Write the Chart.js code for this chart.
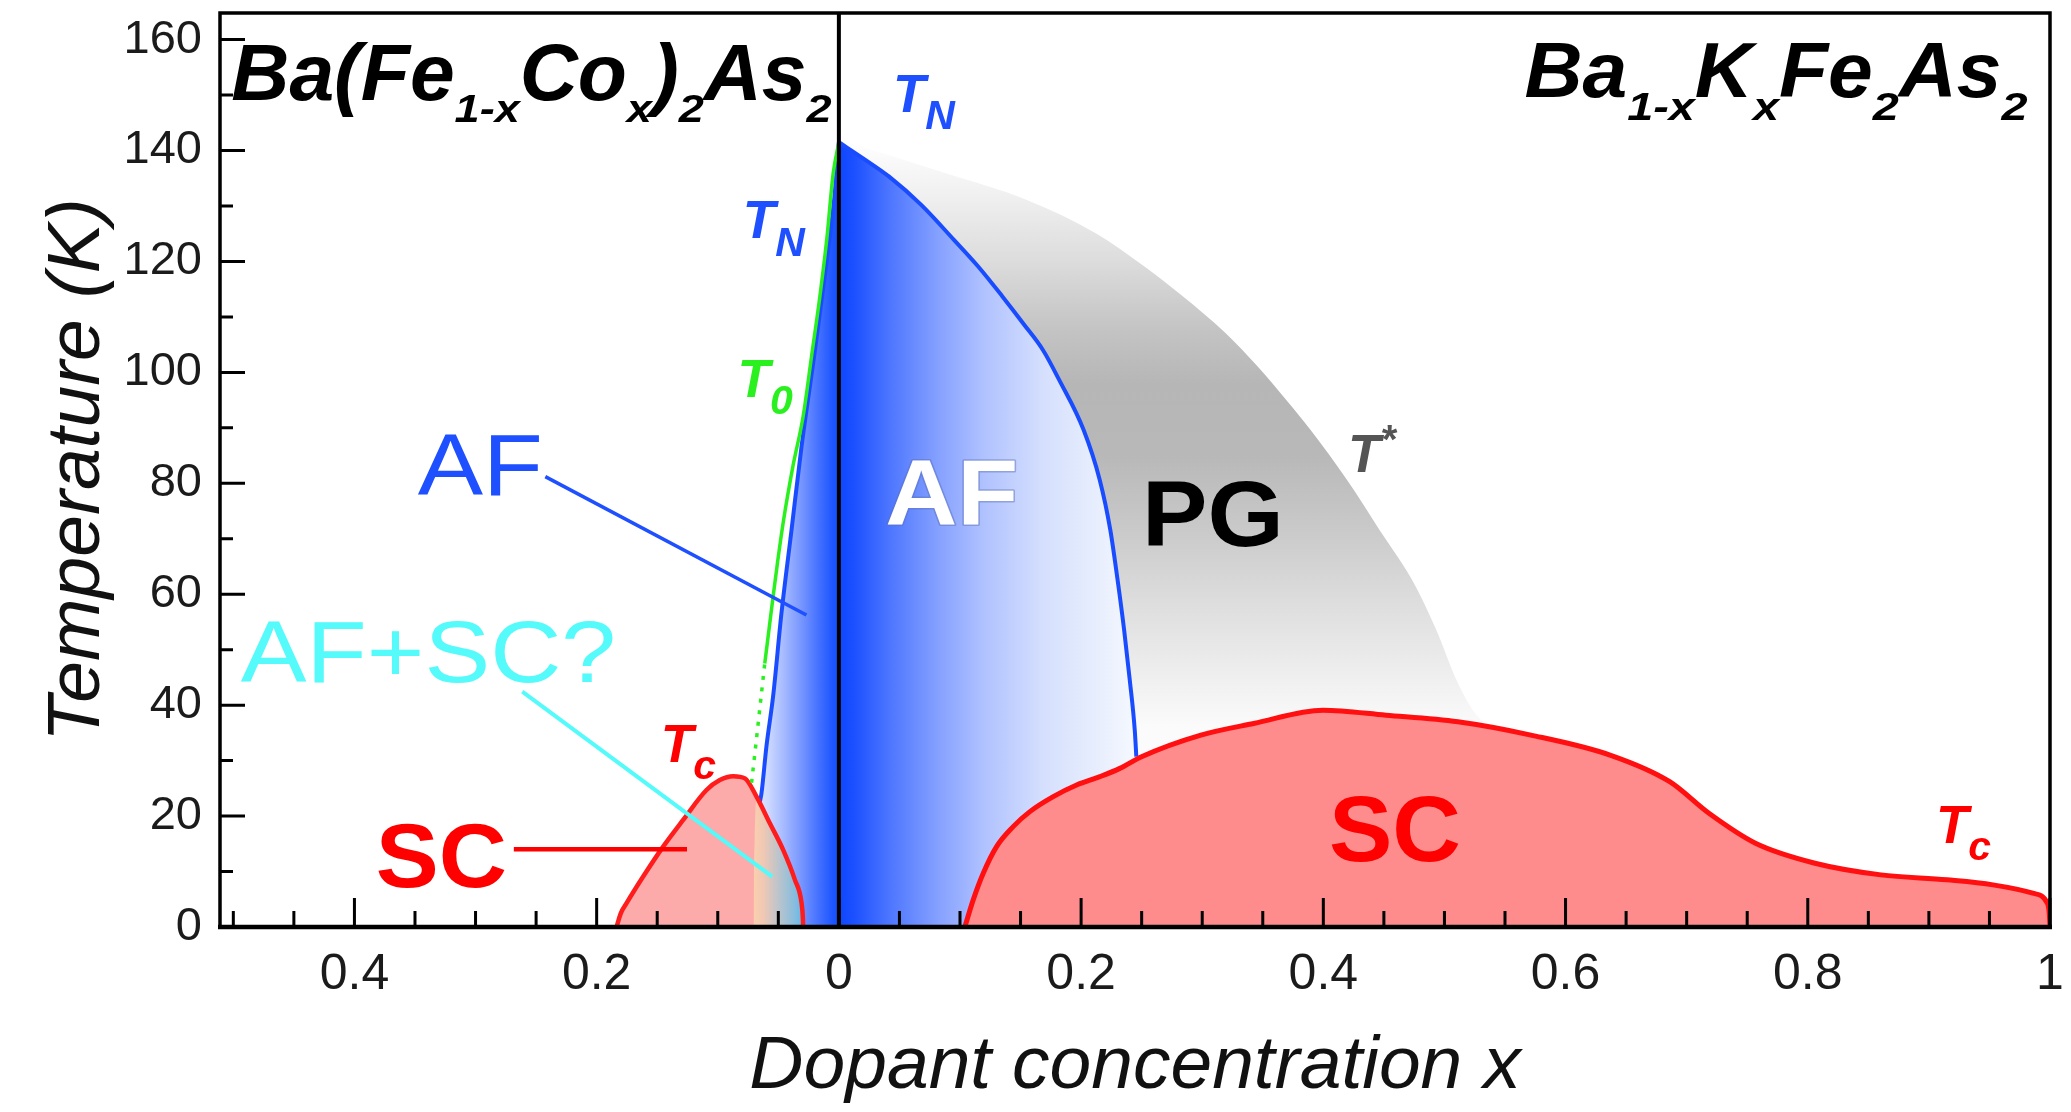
<!DOCTYPE html>
<html lang="en">
<head>
<meta charset="utf-8">
<title>Phase diagram of doped BaFe2As2</title>
<script src="https://cdn.jsdelivr.net/npm/chart.js@4.4.1/dist/chart.umd.min.js"></script>
<style>
  html, body { margin: 0; padding: 0; background: #ffffff; overflow: hidden; }
  canvas { display: block; }
</style>
</head>
<body>
<canvas id="phase" width="2071" height="1112"></canvas>
<script>
// Ba(Fe1-xCox)2As2 is drawn to the left of x = 0 (stored as negative x),
// Ba1-xKxFe2As2 to the right. Every curve point is [x, T (K)].

const X_MIN = -0.511;
const X_MAX = 1.0;
const T_MAX = 164.8;

const xTickValues = [-0.4, -0.2, 0, 0.2, 0.4, 0.6, 0.8, 1];
const xTickLabels = ['0.4', '0.2', '0', '0.2', '0.4', '0.6', '0.8', '1'];
const xMinorTicks = [-0.5, -0.45, -0.35, -0.3, -0.25, -0.15, -0.1, -0.05,
  0.05, 0.1, 0.15, 0.25, 0.3, 0.35, 0.45, 0.5, 0.55, 0.65, 0.7, 0.75, 0.85, 0.9, 0.95];
const yTickValues = [0, 20, 40, 60, 80, 100, 120, 140, 160];
const yTickLabels = ['0', '20', '40', '60', '80', '100', '120', '140', '160'];
const yMinorTicks = [10, 30, 50, 70, 90, 110, 130, 150];

// Ba1-xKxFe2As2: Neel temperature T_N
const tnK = [[0, 141.5], [0.02, 138.6], [0.0415, 135.3], [0.068, 130.2], [0.095, 123.9],
  [0.115, 119.1], [0.135, 113.7], [0.153, 108.6], [0.1686, 104.0], [0.182, 98.6],
  [0.2021, 89.6], [0.2154, 80.6], [0.2241, 71.6], [0.2301, 62.6], [0.2355, 53.6],
  [0.2402, 44.5], [0.2443, 35.5], [0.2456, 30.7]];

// Ba1-xKxFe2As2: pseudogap crossover T*
const tStarK = [[0, 142.0], [0.0883, 135.9], [0.1552, 131.1], [0.2121, 125.1], [0.2523, 119.1],
  [0.2824, 114.0], [0.3192, 107.1], [0.3460, 101.0], [0.3694, 95.0], [0.3895, 89.6],
  [0.4196, 80.6], [0.4464, 71.6], [0.4732, 62.6], [0.4932, 53.6], [0.5100, 44.5],
  [0.5234, 39.1], [0.5320, 37.0]];

// Ba1-xKxFe2As2: superconducting T_c
const scK = [[0.1040, 0], [0.1109, 4.9], [0.1192, 9.7], [0.1302, 14.5], [0.1439, 18.1],
  [0.1577, 20.8], [0.1770, 23.5], [0.1963, 25.6], [0.2155, 27.1], [0.2320, 28.6],
  [0.2499, 30.7], [0.2989, 34.6], [0.3425, 36.7], [0.3997, 39.1], [0.4517, 38.2],
  [0.5111, 37.0], [0.5714, 34.6], [0.6367, 31.0], [0.6860, 26.2], [0.7184, 20.5],
  [0.7568, 15.1], [0.8059, 11.5], [0.8604, 9.4], [0.9149, 8.5], [0.9529, 7.6],
  [0.9857, 6.1], [0.9978, 4.3], [0.9994, 2.5], [1.0, 0]];

// Ba(Fe1-xCox)2As2: Neel temperature T_N
const tnCo = [[-0.0652, 22.6], [-0.0639, 24.1], [-0.0598, 32.6], [-0.0543, 41.6],
  [-0.0474, 56.6], [-0.0391, 71.6], [-0.0308, 86.7], [-0.0212, 101.7], [-0.0102, 119.7],
  [-0.0040, 131.0], [0, 141.5]];

// Ba(Fe1-xCox)2As2: structural transition T_0 (measured part, then extrapolated)
const t0Co = [[-0.0612, 47.5], [-0.0575, 54.0], [-0.0543, 59.6], [-0.0505, 66.0],
  [-0.0460, 72.9], [-0.0380, 83.0], [-0.0295, 92.1], [-0.0225, 103.0], [-0.0157, 113.7],
  [-0.0100, 124.0], [-0.0047, 135.9], [0, 141.5]];
const t0CoExtrap = [[-0.0721, 26.0], [-0.0685, 33.0], [-0.0650, 40.0], [-0.0612, 47.5]];

// Ba(Fe1-xCox)2As2: superconducting T_c
const scCo = [[-0.1836, 0], [-0.1800, 2.5], [-0.1753, 4.3], [-0.1616, 9.1], [-0.1451, 14.5],
  [-0.1286, 19.3], [-0.1093, 24.7], [-0.0983, 26.5], [-0.0873, 27.2], [-0.0776, 26.8],
  [-0.0680, 23.5], [-0.0570, 18.7], [-0.0460, 13.9], [-0.0363, 8.5], [-0.0308, 4.3],
  [-0.0297, 1.5], [-0.0295, 0]];

// Ba(Fe1-xCox)2As2: region where the AF and SC domes overlap
const afScCo = [[-0.0705, 0], [-0.0702, 8.0], [-0.0695, 16.0], [-0.0682, 23.2],
  [-0.0570, 18.7], [-0.0460, 13.9], [-0.0363, 8.5], [-0.0308, 4.3], [-0.0297, 1.5],
  [-0.0295, 0]];

const FONT = '"Liberation Sans", Arial, Helvetica, sans-serif';
const BLUE = '#1f50ff';
const BLUE_LINE = '#1a4cff';
const GREEN = '#2bf01f';
const CYAN = '#55fafa';
const RED = '#ff0000';

const formulaCo = [['Ba(Fe'], ['1-x', 'sub'], ['Co'], ['x', 'sub'], [')'], ['2', 'sub'], ['As'], ['2', 'sub']];
const formulaK = [['Ba'], ['1-x', 'sub'], ['K'], ['x', 'sub'], ['Fe'], ['2', 'sub'], ['As'], ['2', 'sub']];

// Text anchored at (ink left, baseline) in axis units; w = target ink width in x units
const TL = { style: 'italic bold', size: 53, subSize: 41, drop: 17.6 };
const textMarks = [
  { runs: formulaCo, x: -0.5008, y: 149.13, w: 0.4950, style: 'italic bold', size: 80, subSize: 39, subStretch: 1.15, drop: 22, color: '#000' },
  { runs: formulaK, x: 0.5669, y: 149.72, w: 0.4149, style: 'italic bold', size: 77, subSize: 39, subStretch: 1.15, drop: 23, color: '#000' },
  { ...TL, runs: [['T'], ['N', 'sub']], x: 0.0471, y: 147.02, color: BLUE },
  { ...TL, runs: [['T'], ['N', 'sub']], x: -0.0768, y: 124.19, color: BLUE },
  { ...TL, runs: [['T'], ['0', 'sub']], x: -0.0812, y: 95.63, color: GREEN },
  { runs: [['AF']], x: -0.3477, y: 77.90, w: 0.1004, style: 'normal', size: 87, color: BLUE },
  { runs: [['AF+SC?']], x: -0.4938, y: 44.23, w: 0.3072, style: 'normal', size: 88, color: CYAN },
  { ...TL, runs: [['T'], ['c', 'sub']], x: -0.1445, y: 29.81, color: RED },
  { runs: [['SC']], x: -0.3807, y: 7.27, w: 0.1052, style: 'bold', size: 91, color: RED },
  { runs: [['AF']], x: 0.0400, y: 72.67, w: 0.1051, style: 'bold', size: 92, color: '#ffffff', halo: 'rgba(90,110,180,0.45)' },
  { runs: [['PG']], x: 0.2556, y: 68.70, w: 0.1071, style: 'bold', size: 93, color: '#000' },
  { ...TL, runs: [['T'], ['*', 'sup']], x: 0.4228, y: 82.10, supSize: 40, rise: 18.8, color: '#555555' },
  { runs: [['SC']], x: 0.4063, y: 11.96, w: 0.1052, style: 'bold', size: 92, color: RED },
  { ...TL, runs: [['T'], ['c', 'sub']], x: 0.9083, y: 15.20, color: RED }
];

// Leader lines from the left-hand labels to their regions
const leaders = [
  { from: [-0.2424, 81.2], to: [-0.0268, 56.26], color: BLUE, width: 3.5 },
  { from: [-0.2614, 42.43], to: [-0.0550, 9.07], color: CYAN, width: 4 },
  { from: [-0.2684, 14.0], to: [-0.1254, 14.0], color: RED, width: 4.5 }
];

// ---- fills ----
const blueStopsK = [[0, '#0e46ff'], [0.05, '#1c50ff'], [0.16, '#4a74ff'], [0.33, '#86a1ff'],
  [0.48, '#b0c2ff'], [0.68, '#d6e0fd'], [0.88, '#eaf0fd'], [1, '#f8faff']];
const blueStopsCo = [[0, '#1450ff'], [0.08, '#1e56ff'], [0.27, '#4a75ff'], [0.47, '#7a98ff'],
  [0.68, '#a8bcff'], [0.88, '#d0dcff'], [1, '#e2eaff']];
const mixStops = [[0, '#fad0ac'], [0.2, '#f0c8b4'], [0.5, '#bcc4cc'], [0.8, '#8cbedc'], [1, '#64b6ea']];
const grayStops = [[142, '#ffffff'], [132, '#f0f0f0'], [120, '#dcdcdc'], [108, '#c4c4c4'],
  [98, '#b6b6b6'], [85, '#b8b8b8'], [72, '#c9c9c9'], [58, '#dedede'], [45, '#efefef'], [36, '#fbfbfb']];

function hGradient(chart, x0, x1, stops) {
  const xs = chart.scales.x;
  const g = chart.ctx.createLinearGradient(xs.getPixelForValue(x0), 0, xs.getPixelForValue(x1), 0);
  stops.forEach(([o, c]) => g.addColorStop(o, c));
  return g;
}
function grayFill(c) {
  const chart = c.chart;
  if (!chart.chartArea) return '#cccccc';
  const ys = chart.scales.y;
  const top = grayStops[0][0], bot = grayStops[grayStops.length - 1][0];
  const g = chart.ctx.createLinearGradient(0, ys.getPixelForValue(top), 0, ys.getPixelForValue(bot));
  grayStops.forEach(([t, col]) => g.addColorStop((top - t) / (top - bot), col));
  return g;
}
const blueFillK = c => c.chart.chartArea ? hGradient(c.chart, 0, 0.25, blueStopsK) : BLUE;
const blueFillCo = c => c.chart.chartArea ? hGradient(c.chart, 0, -0.068, blueStopsCo) : BLUE;
const mixFill = c => c.chart.chartArea ? hGradient(c.chart, -0.0705, -0.0295, mixStops) : '#cccccc';

function curve(data, opts) {
  return Object.assign({
    data, fill: false, borderWidth: 0, pointRadius: 0, pointHoverRadius: 0, pointHitRadius: 0,
    cubicInterpolationMode: 'monotone'
  }, opts);
}

const datasets = [
  curve(tStarK, { label: 'T*', fill: 'origin', backgroundColor: grayFill, order: 12 }),
  curve(tnK, { label: 'TN K', fill: 'origin', backgroundColor: blueFillK, borderColor: BLUE_LINE, borderWidth: 4, order: 11 }),
  curve(tnCo, { label: 'TN Co', fill: 'origin', backgroundColor: blueFillCo, borderColor: BLUE_LINE, borderWidth: 4, order: 10 }),
  curve(scCo, { label: 'Tc Co', fill: 'origin', backgroundColor: '#fcaaaa', borderColor: '#ff1c1c', borderWidth: 4.5, order: 9 }),
  curve(afScCo, { label: 'AF+SC', fill: 'origin', backgroundColor: mixFill, order: 8 }),
  curve(scK, { label: 'Tc K', fill: 'origin', backgroundColor: '#ff8c8c', borderColor: '#ff0f0f', borderWidth: 5, order: 7 }),
  curve(t0Co, { label: 'T0', borderColor: GREEN, borderWidth: 3.5, order: 6 }),
  curve(t0CoExtrap, { label: 'T0 extrapolated', borderColor: GREEN, borderWidth: 3.5, borderDash: [4, 7.5], order: 5 }),
  curve([[0, 0], [0, T_MAX]], { label: 'x = 0', borderColor: '#000', borderWidth: 4, order: 1 })
];

// ---- rich text with sub/superscripts ----
function drawRich(ctx, item, xs, ys) {
  const px = xs.getPixelForValue(item.x);
  const py = ys.getPixelForValue(item.y);
  let pen = 0, inkL = Infinity, inkR = -Infinity;
  const placed = item.runs.map(([text, kind]) => {
    const size = kind === 'sub' ? item.subSize : kind === 'sup' ? item.supSize : item.size;
    const sx = kind === 'sub' ? (item.subStretch || 1) : 1;
    const dy = kind === 'sub' ? item.drop : kind === 'sup' ? -item.rise : 0;
    const font = `${item.style} ${size}px ${FONT}`;
    ctx.font = font;
    const m = ctx.measureText(text);
    inkL = Math.min(inkL, pen - m.actualBoundingBoxLeft * sx);
    inkR = Math.max(inkR, pen + m.actualBoundingBoxRight * sx);
    const run = { text, font, sx, dy, at: pen };
    pen += m.width * sx;
    return run;
  });
  const S = item.w ? (xs.getPixelForValue(item.x + item.w) - px) / (inkR - inkL) : 1;
  ctx.save();
  ctx.translate(px, py);
  ctx.scale(S, 1);
  ctx.translate(-inkL, 0);
  ctx.textAlign = 'left';
  ctx.textBaseline = 'alphabetic';
  placed.forEach(r => {
    ctx.save();
    ctx.translate(r.at, r.dy);
    ctx.scale(r.sx, 1);
    ctx.font = r.font;
    if (item.halo) {
      ctx.strokeStyle = item.halo;
      ctx.lineWidth = 3;
      ctx.lineJoin = 'round';
      ctx.strokeText(r.text, 0, 0);
    }
    ctx.fillStyle = item.color;
    ctx.fillText(r.text, 0, 0);
    ctx.restore();
  });
  ctx.restore();
}

const overlay = {
  id: 'phaseOverlay',
  afterDatasetsDraw(chart) {
    const { ctx, chartArea: a, scales: { x, y } } = chart;
    ctx.save();
    ctx.strokeStyle = '#000';
    ctx.lineCap = 'butt';
    ctx.lineWidth = 3;
    ctx.beginPath();
    const xt = (vals, len) => vals.forEach(v => {
      const p = x.getPixelForValue(v);
      ctx.moveTo(p, a.bottom); ctx.lineTo(p, a.bottom - len);
    });
    const yt = (vals, len) => vals.forEach(v => {
      const p = y.getPixelForValue(v);
      ctx.moveTo(a.left, p); ctx.lineTo(a.left + len, p);
    });
    xt(xTickValues, 29); xt(xMinorTicks, 16);
    yt(yTickValues, 25); yt(yMinorTicks, 13);
    ctx.stroke();

    ctx.lineWidth = 3.5;
    ctx.beginPath();
    ctx.moveTo(a.left, a.bottom); ctx.lineTo(a.left, a.top);
    ctx.lineTo(a.right, a.top); ctx.lineTo(a.right, a.bottom);
    ctx.stroke();
    ctx.lineWidth = 4.5;
    ctx.beginPath();
    ctx.moveTo(a.left - 2, a.bottom); ctx.lineTo(a.right + 2, a.bottom);
    ctx.stroke();

    leaders.forEach(l => {
      ctx.strokeStyle = l.color;
      ctx.lineWidth = l.width;
      ctx.beginPath();
      ctx.moveTo(x.getPixelForValue(l.from[0]), y.getPixelForValue(l.from[1]));
      ctx.lineTo(x.getPixelForValue(l.to[0]), y.getPixelForValue(l.to[1]));
      ctx.stroke();
    });
    textMarks.forEach(t => drawRich(ctx, t, x, y));
    ctx.restore();
  }
};

Chart.defaults.font.family = FONT;

new Chart(document.getElementById('phase'), {
  type: 'line',
  data: { datasets },
  plugins: [overlay],
  options: {
    responsive: false,
    maintainAspectRatio: false,
    animation: false,
    devicePixelRatio: 1,
    layout: { padding: { top: 13, right: 21, bottom: 0, left: 0 } },
    events: [],
    plugins: {
      legend: { display: false },
      tooltip: { enabled: false },
      filler: { drawTime: 'beforeDatasetsDraw' }
    },
    scales: {
      x: {
        type: 'linear',
        min: X_MIN,
        max: X_MAX,
        border: { display: false },
        grid: { display: false, drawTicks: false },
        afterBuildTicks: s => { s.ticks = xTickValues.map(v => ({ value: v })); },
        afterFit: s => { s.height = 185; s.paddingLeft = 0; s.paddingRight = 0; },
        ticks: {
          autoSkip: false,
          maxRotation: 0,
          padding: 18,
          color: '#1b1b1b',
          font: { size: 50 },
          callback: (v, i) => xTickLabels[i]
        },
        title: {
          display: true,
          text: 'Dopant concentration x',
          color: '#111',
          font: { size: 75, style: 'italic' },
          padding: { top: 0, bottom: 0 }
        }
      },
      y: {
        type: 'linear',
        min: 0,
        max: T_MAX,
        border: { display: false },
        grid: { display: false, drawTicks: false },
        afterBuildTicks: s => { s.ticks = yTickValues.map(v => ({ value: v })); },
        afterFit: s => { s.width = 220; s.paddingTop = 0; s.paddingBottom = 0; },
        ticks: {
          autoSkip: false,
          padding: 18,
          color: '#1b1b1b',
          font: { size: 47 },
          callback: (v, i) => yTickLabels[i]
        },
        title: {
          display: true,
          text: 'Temperature (K)',
          color: '#111',
          font: { size: 75, style: 'italic' },
          padding: { top: 33, bottom: 0 }
        }
      }
    }
  }
});
</script>
</body>
</html>
